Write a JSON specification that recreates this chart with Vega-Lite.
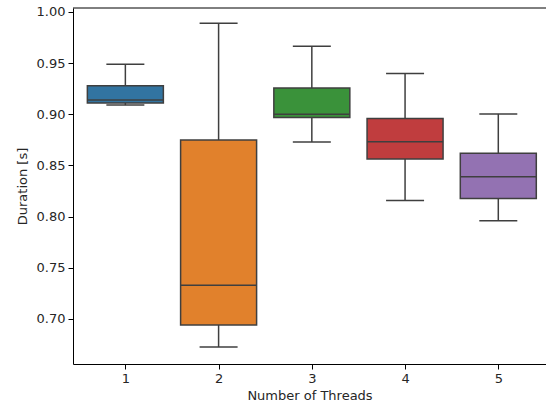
{
  "$schema": "https://vega.github.io/schema/vega-lite/v6.json",
  "autosize": {"type": "none"},
  "padding": {"left": 73, "top": 8, "right": 0, "bottom": 43},
  "width": 473,
  "height": 356,
  "background": "white",
  "config": {
    "view": {"stroke": null},
    "font": "DejaVu Sans",
    "axis": {
      "labelFont": "DejaVu Sans", "titleFont": "DejaVu Sans",
      "labelFontSize": 13, "titleFontSize": 13, "titleFontWeight": "normal",
      "labelColor": "#262626", "titleColor": "#262626",
      "domainColor": "#000000", "tickColor": "#000000",
      "domainWidth": 1, "tickWidth": 1, "tickSize": 5, "labelPadding": 3,
      "grid": false
    }
  },
  "data": {
    "values": [
      {"threads": 1, "wlo": 0.909, "q1": 0.911, "med": 0.914, "q3": 0.928, "whi": 0.949},
      {"threads": 2, "wlo": 0.6726, "q1": 0.694, "med": 0.733, "q3": 0.875, "whi": 0.989},
      {"threads": 3, "wlo": 0.873, "q1": 0.897, "med": 0.900, "q3": 0.9258, "whi": 0.9665},
      {"threads": 4, "wlo": 0.8157, "q1": 0.8564, "med": 0.8733, "q3": 0.896, "whi": 0.940},
      {"threads": 5, "wlo": 0.796, "q1": 0.8177, "med": 0.839, "q3": 0.862, "whi": 0.9004}
    ]
  },
  "layer": [
    {
      "mark": {"type": "rule", "color": "#3f3f3f", "strokeWidth": 1.5},
      "encoding": {
        "x": {"field": "threads", "type": "quantitative",
              "scale": {"domain": [0.492, 5.458], "nice": false, "zero": false},
              "axis": {"values": [1, 2, 3, 4, 5], "format": "d", "title": "Number of Threads", "titlePadding": 4}},
        "y": {"field": "wlo", "type": "quantitative",
              "scale": {"domain": [0.656, 1.0039], "nice": false, "zero": false},
              "axis": {"values": [0.7, 0.75, 0.8, 0.85, 0.9, 0.95, 1.0], "format": ".2f", "title": "Duration [s]", "titlePadding": 7}},
        "y2": {"field": "whi"}
      }
    },
    {
      "mark": {"type": "tick", "orient": "horizontal", "color": "#3f3f3f", "size": 38, "thickness": 1.5, "opacity": 1},
      "encoding": {
        "x": {"field": "threads", "type": "quantitative"},
        "y": {"field": "wlo", "type": "quantitative"}
      }
    },
    {
      "mark": {"type": "tick", "orient": "horizontal", "color": "#3f3f3f", "size": 38, "thickness": 1.5, "opacity": 1},
      "encoding": {
        "x": {"field": "threads", "type": "quantitative"},
        "y": {"field": "whi", "type": "quantitative"}
      }
    },
    {
      "mark": {"type": "bar", "width": 76, "stroke": "#3f3f3f", "strokeWidth": 1.5, "opacity": 1},
      "encoding": {
        "x": {"field": "threads", "type": "quantitative"},
        "y": {"field": "q1", "type": "quantitative"},
        "y2": {"field": "q3"},
        "color": {"field": "threads", "type": "nominal", "legend": null,
                  "scale": {"range": ["#3274a1", "#e1812c", "#3a923a", "#c03d3e", "#9372b2"]}}
      }
    },
    {
      "mark": {"type": "tick", "orient": "horizontal", "color": "#3f3f3f", "size": 76, "thickness": 1.5, "opacity": 1},
      "encoding": {
        "x": {"field": "threads", "type": "quantitative"},
        "y": {"field": "med", "type": "quantitative"}
      }
    },
    {
      "data": {"values": [{"top": 1.0039}]},
      "mark": {"type": "rule", "color": "#000000", "strokeWidth": 1},
      "encoding": {"y": {"field": "top", "type": "quantitative"}}
    }
  ]
}
